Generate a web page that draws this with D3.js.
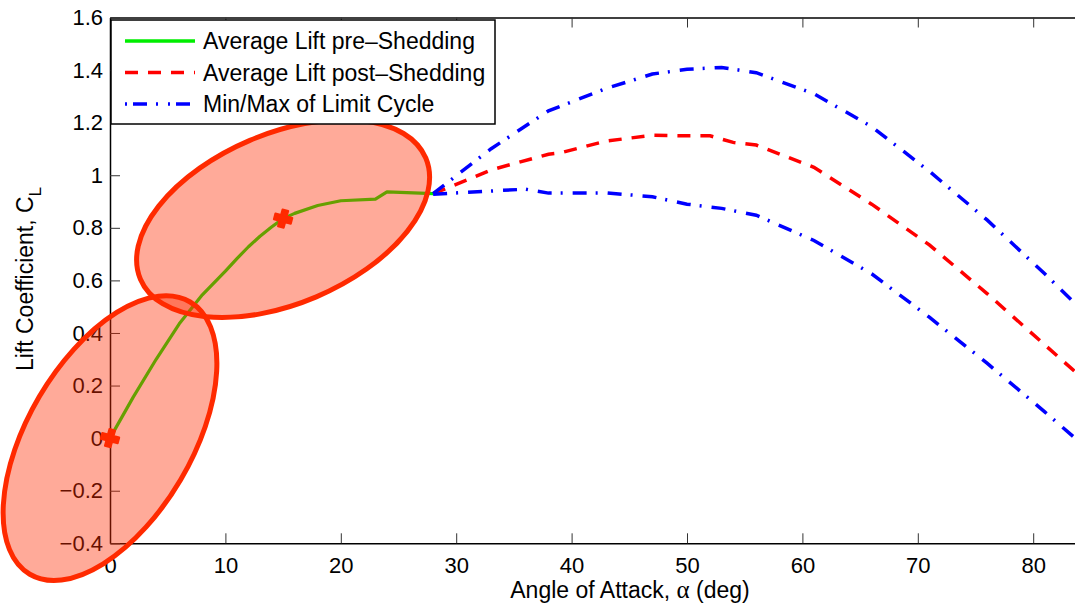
<!DOCTYPE html>
<html>
<head>
<meta charset="utf-8">
<script src="https://cdn.jsdelivr.net/npm/d3@7"></script>
<style>
  body { margin: 0; background: #fff; }
  text { font-family: "Liberation Sans", Arial, Helvetica, sans-serif; fill: #000; }
</style>
</head>
<body>
<svg id="chart" width="1075" height="606"></svg>
<script>
// averaged lift before shedding starts
const preAlpha = [0, 2, 4, 6, 8, 10, 11, 12, 13, 14, 15, 16, 18, 20, 23, 24, 28];
const preCL = [0, 0.155, 0.30, 0.435, 0.545, 0.635, 0.683, 0.728, 0.768, 0.803, 0.835, 0.855, 0.885, 0.903, 0.909, 0.937, 0.93];

// averaged lift once shedding starts
const postAlpha = [28, 30, 33, 38, 39, 43, 47, 50, 52, 54, 56, 61, 66, 71, 76, 81, 86];
const postCL = [0.93, 0.965, 1.02, 1.08, 1.085, 1.13, 1.152, 1.15, 1.15, 1.125, 1.115, 1.03, 0.89, 0.735, 0.55, 0.355, 0.16];

// limit cycle envelope
const maxAlpha = [28, 33, 38, 43, 47, 50, 53, 56, 61, 66, 71, 76, 81, 86];
const maxCL = [0.93, 1.10, 1.245, 1.33, 1.385, 1.403, 1.41, 1.39, 1.31, 1.185, 1.015, 0.83, 0.625, 0.41];
const minAlpha = [28, 33, 36, 38, 43, 47, 50, 53, 56, 61, 66, 71, 76, 81, 86];
const minCL = [0.928, 0.94, 0.947, 0.932, 0.933, 0.918, 0.89, 0.874, 0.848, 0.752, 0.625, 0.46, 0.285, 0.10, -0.09];

// highlighted points
const markAlpha = [0, 15];
const markCL = [0, 0.835];

const xTicks = [0, 10, 20, 30, 40, 50, 60, 70, 80];
const yTicks = [-0.4, -0.2, 0, 0.2, 0.4, 0.6, 0.8, 1, 1.2, 1.4, 1.6];

const legendLabels = ["Average Lift pre\u2013Shedding", "Average Lift post\u2013Shedding", "Min/Max of Limit Cycle"];

const svg = d3.select("#chart");
const plotLeft = 110, plotTop = 17.5, plotBottom = 543.3;
const pxPerDeg = 11.54;

const x = d3.scaleLinear().domain([0, 90]).range([plotLeft, plotLeft + 90 * pxPerDeg]);
const y = d3.scaleLinear().domain([-0.4, 1.6]).range([plotBottom, plotTop]);

const zip = (a, b) => a.map((v, i) => [v, b[i]]);
const line = d3.line().x(d => x(d[0])).y(d => y(d[1]));

// axes, MATLAB style ticks pointing inwards
const fmt = d3.format("~g");
const gx = svg.append("g").attr("transform", `translate(0,${plotBottom})`)
  .call(d3.axisBottom(x).tickValues(xTicks).tickSizeInner(-10).tickSizeOuter(0).tickPadding(14).tickFormat(fmt));
const gt = svg.append("g").attr("transform", `translate(0,${plotTop})`)
  .call(d3.axisTop(x).tickValues(xTicks).tickSizeInner(-10).tickSizeOuter(0).tickFormat(""));
const gy = svg.append("g").attr("transform", `translate(${plotLeft},0)`)
  .call(d3.axisLeft(y).tickValues(yTicks).tickSizeInner(-10).tickSizeOuter(0).tickPadding(7).tickFormat(fmt));

[gx, gt, gy].forEach(g => {
  g.select(".domain").attr("stroke", "#000").attr("stroke-width", 1.5);
  g.selectAll(".tick line").attr("stroke", "#333").attr("stroke-width", 1);
  g.selectAll(".tick text").style("font-size", "22px").attr("fill", "#000");
});

// data lines
svg.append("path").datum(zip(preAlpha, preCL)).attr("d", line)
  .attr("fill", "none").attr("stroke", "#00ee00").attr("stroke-width", 3.2).attr("stroke-linejoin", "round");
svg.append("path").datum(zip(postAlpha, postCL)).attr("d", line)
  .attr("fill", "none").attr("stroke", "#ff0000").attr("stroke-width", 3.5).attr("stroke-dasharray", "13,10");
[zip(maxAlpha, maxCL), zip(minAlpha, minCL)].forEach(d => {
  svg.append("path").datum(d).attr("d", line)
    .attr("fill", "none").attr("stroke", "#0000ff").attr("stroke-width", 3.5).attr("stroke-dasharray", "14,9,2,10");
});

// ellipses highlighting regions round the marked points
const ellipseShape = [{ rx: 158, ry: 82, rot: -59.5 }, { rx: 155, ry: 85, rot: -23 }];
markAlpha.forEach((a, i) => {
  const s = ellipseShape[i];
  svg.append("ellipse")
    .attr("transform", `translate(${x(a)},${y(markCL[i])}) rotate(${s.rot})`)
    .attr("rx", s.rx).attr("ry", s.ry)
    .attr("fill", "#ff2a00").attr("fill-opacity", 0.4)
    .attr("stroke", "#ff2a00").attr("stroke-width", 5);
});

svg.selectAll("path.mark").data(zip(markAlpha, markCL)).join("path")
  .attr("class", "mark")
  .attr("d", d3.symbol(d3.symbolCross, 170))
  .attr("transform", d => `translate(${x(d[0])},${y(d[1])}) rotate(15)`)
  .attr("fill", "#ff2a00")
  .attr("stroke", "#ff2a00").attr("stroke-width", 2).attr("stroke-linejoin", "round");

// axis labels
const xl = svg.append("text").attr("x", 630).attr("y", 598).attr("text-anchor", "middle").style("font-size", "23px");
xl.append("tspan").text("Angle of Attack, ");
xl.append("tspan").style("font-family", "'Liberation Serif', serif").style("font-size", "25px").text("\u03b1");
xl.append("tspan").text(" (deg)");

const yl = svg.append("text").attr("transform", "translate(33,279) rotate(-90)").attr("text-anchor", "middle").style("font-size", "23px");
yl.append("tspan").text("Lift Coefficient, C");
yl.append("tspan").attr("dy", 8).style("font-size", "17px").text("L");

// legend
const lg = svg.append("g");
lg.append("rect").attr("x", 111).attr("y", 20).attr("width", 384).attr("height", 104)
  .attr("fill", "#fff").attr("stroke", "#000").attr("stroke-width", 1.5);
const legendStyle = [
  { color: "#00ee00", dash: null },
  { color: "#ff0000", dash: "13,10" },
  { color: "#0000ff", dash: "2,6,14,9,2,10" }
];
legendLabels.forEach((t, i) => {
  const ry = 41 + i * 31.5;
  lg.append("line").attr("x1", 125).attr("x2", 195).attr("y1", ry).attr("y2", ry)
    .attr("stroke", legendStyle[i].color).attr("stroke-width", 3.5)
    .attr("stroke-dasharray", legendStyle[i].dash);
  lg.append("text").attr("x", 203).attr("y", ry).attr("dy", "0.35em").style("font-size", "23px").text(t);
});
</script>
</body>
</html>
